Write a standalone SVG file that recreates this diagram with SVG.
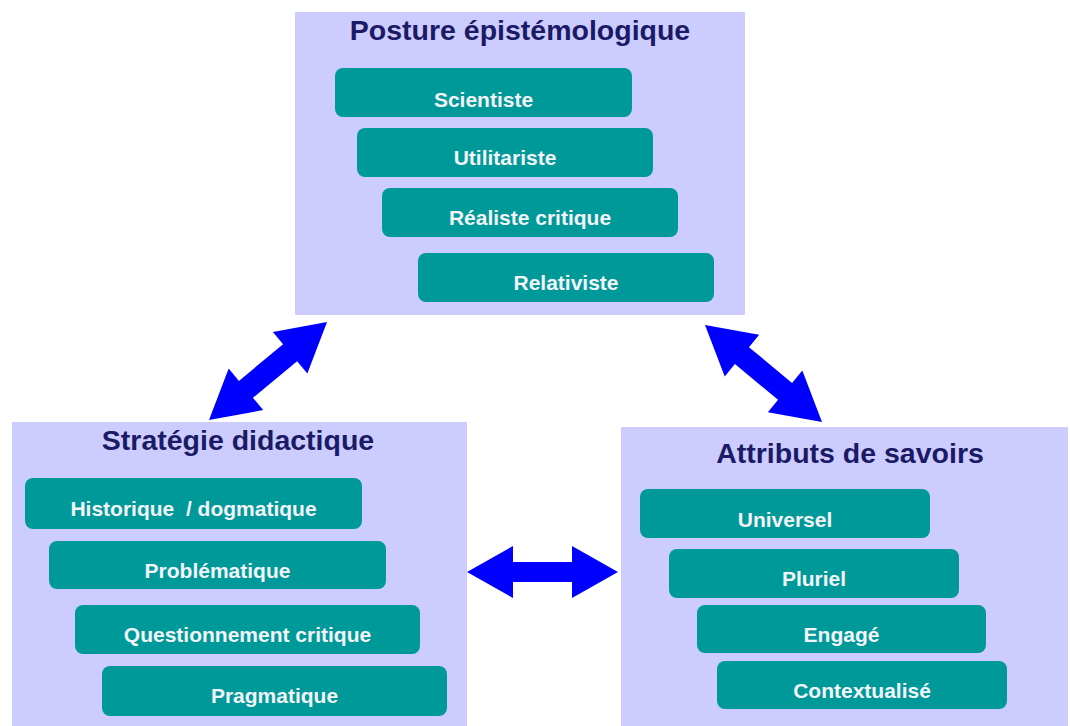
<svg xmlns="http://www.w3.org/2000/svg" width="1070" height="726" viewBox="0 0 1070 726">
<defs>
<style>
.panel{fill:#ccccff;}
.title{font-family:"Liberation Sans",Arial,sans-serif;font-weight:bold;font-size:28.5px;fill:#1a1a66;text-anchor:middle;}
.box{fill:#009999;}
.lbl{font-family:"Liberation Sans",Arial,sans-serif;font-weight:bold;font-size:21px;fill:#f2f4f8;text-anchor:middle;}
.arrow{fill:#0000ff;}
</style>
</defs>
<rect width="1070" height="726" fill="#ffffff"/>

<g id="posture">
<rect class="panel" x="295" y="12" width="450" height="303"/>
<text class="title" x="520" y="40">Posture épistémologique</text>
<g id="scientiste"><rect class="box" x="335" y="68" width="297" height="49" rx="8"/><text class="lbl" x="483.5" y="107">Scientiste</text></g>
<g id="utilitariste"><rect class="box" x="357" y="128" width="296" height="49" rx="8"/><text class="lbl" x="505" y="165">Utilitariste</text></g>
<g id="realiste"><rect class="box" x="382" y="188" width="296" height="49" rx="8"/><text class="lbl" x="530" y="225">Réaliste critique</text></g>
<g id="relativiste"><rect class="box" x="418" y="253" width="296" height="49" rx="8"/><text class="lbl" x="566" y="290">Relativiste</text></g>
</g>

<g id="strategie">
<rect class="panel" x="12" y="422" width="455" height="304"/>
<text class="title" x="238" y="450">Stratégie didactique</text>
<g id="historique"><rect class="box" x="25" y="478" width="337" height="51" rx="8"/><text class="lbl" x="193.5" y="516" xml:space="preserve">Historique  / dogmatique</text></g>
<g id="problematique"><rect class="box" x="49" y="541" width="337" height="48" rx="8"/><text class="lbl" x="217.5" y="578">Problématique</text></g>
<g id="questionnement"><rect class="box" x="75" y="605" width="345" height="49" rx="8"/><text class="lbl" x="247.5" y="642">Questionnement critique</text></g>
<g id="pragmatique"><rect class="box" x="102" y="666" width="345" height="50" rx="8"/><text class="lbl" x="274.5" y="703">Pragmatique</text></g>
</g>

<g id="attributs">
<rect class="panel" x="621" y="427" width="447" height="299"/>
<text class="title" x="850" y="463">Attributs de savoirs</text>
<g id="universel"><rect class="box" x="640" y="489" width="290" height="49" rx="8"/><text class="lbl" x="785" y="527">Universel</text></g>
<g id="pluriel"><rect class="box" x="669" y="549" width="290" height="49" rx="8"/><text class="lbl" x="814" y="586">Pluriel</text></g>
<g id="engage"><rect class="box" x="697" y="605" width="289" height="48" rx="8"/><text class="lbl" x="841.5" y="642">Engagé</text></g>
<g id="contextualise"><rect class="box" x="717" y="661" width="290" height="48" rx="8"/><text class="lbl" x="862" y="698">Contextualisé</text></g>
</g>

<g id="connectors">
<polygon class="arrow" transform="translate(209,420) rotate(-39.7)" points="0,0 48,-27 48,-11 105.4,-11 105.4,-27 153.4,0 105.4,27 105.4,11 48,11 48,27"/>
<polygon class="arrow" transform="translate(705,325) rotate(39.66)" points="0,0 48,-27 48,-11 104,-11 104,-27 152,0 104,27 104,11 48,11 48,27"/>
<polygon class="arrow" points="467,572 513,546 513,562 572,562 572,546 618,572 572,598 572,582 513,582 513,598"/>
</g>
</svg>
